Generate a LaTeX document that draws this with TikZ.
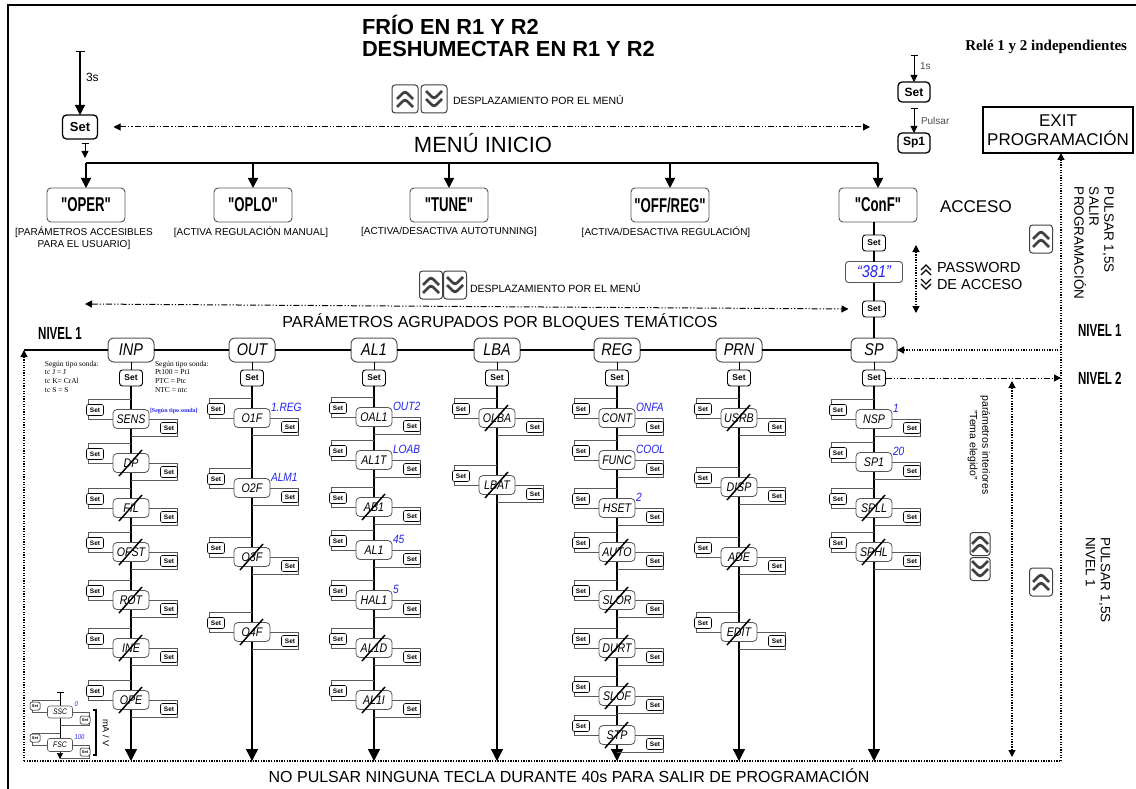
\documentclass[tikz,border=0pt]{standalone}
\usepackage{fontspec}
\setmainfont{Liberation Sans}
\newfontfamily\condf[FakeStretch=0.66]{Liberation Sans}
\newfontfamily\lcdf[FakeStretch=0.85]{Liberation Sans}
\newfontfamily\serf{Liberation Serif}
\usetikzlibrary{arrows.meta,calc}
\newcommand{\fsz}[2]{\fontsize{#1pt}{#2pt}\selectfont}
\definecolor{lcdblue}{RGB}{35,35,240}
\definecolor{bord}{RGB}{85,85,85}
\tikzset{
 x=1pt,y=-1pt,
 every node/.style={inner sep=0pt,outer sep=0pt},
 keybase/.style={draw=black!75,rounded corners=3pt,line width=1pt,minimum width=24pt,minimum height=27pt,fill=white},
 upkey/.style={keybase,path picture={\draw[line width=2.8pt,shift={(path picture bounding box.center)}] (-8,0)--(0,-8)--(8,0) (-8,8)--(0,0)--(8,8);}},
 downkey/.style={keybase,path picture={\draw[line width=2.8pt,shift={(path picture bounding box.center)}] (-8,-8)--(0,0)--(8,-8) (-8,0)--(0,8)--(8,0);}},
 pwkeys/.style={minimum width=14pt,minimum height=28pt,path picture={\draw[line width=1.3pt,shift={(path picture bounding box.center)}] (-5,-7)--(0,-12)--(5,-7) (-5,-2)--(0,-7)--(5,-2) (-5,2)--(0,7)--(5,2) (-5,7)--(0,12)--(5,7);}},
 setA/.style={draw,line width=1.3pt,rounded corners=4pt,minimum width=35pt,minimum height=24pt,fill=white,font=\bfseries\fsz{13}{13}},
 setB/.style={draw,line width=0.9pt,rounded corners=3pt,minimum width=23pt,minimum height=16pt,fill=white,font=\bfseries\fsz{8.5}{8.5}},
 setC/.style={draw,line width=0.6pt,rounded corners=2pt,minimum width=17pt,minimum height=11pt,fill=white,font=\bfseries\fsz{6.5}{6.5}},
 setD/.style={draw,line width=0.5pt,rounded corners=1.5pt,minimum width=10pt,minimum height=8pt,fill=white,font=\bfseries\fsz{4}{4}},
 menubox/.style={draw=bord,line width=0.9pt,rounded corners=4pt,minimum width=78pt,minimum height=34pt,fill=white,font=\condf\bfseries\fsz{20}{20}},
 hbox/.style={draw=bord,line width=1pt,rounded corners=6pt,minimum width=46pt,minimum height=24pt,fill=white,font=\lcdf\itshape\fsz{17}{17}},
 pbox/.style={draw=bord,line width=0.8pt,rounded corners=4pt,minimum width=36pt,minimum height=19pt,fill=white,font=\lcdf\itshape\fsz{12.5}{12.5}},
 sbox/.style={draw=bord,line width=0.6pt,rounded corners=2.5pt,minimum width=25pt,minimum height=12pt,fill=white,font=\lcdf\itshape\fsz{8}{8}},
 val/.style={anchor=south west,text=lcdblue,font=\lcdf\itshape\fsz{12}{12}},
 strike/.style={line width=1.5pt},
 brk/.style={draw=black!65,line width=0.6pt},
 colline/.style={line width=1.4pt,-{Triangle[width=12pt,length=12pt]}},
 dashdot/.style={line width=1pt,dash pattern=on 6pt off 2pt on 1.2pt off 2pt on 1.2pt off 2pt},
 dotl/.style={line width=1.3pt,dash pattern=on 1.3pt off 1.3pt},
 tip/.style={-{Triangle[width=7pt,length=7pt]}},
 tips/.style={{Triangle[width=7pt,length=7pt]}-{Triangle[width=7pt,length=7pt]}},
 barrow/.style={line width=0.8pt,{Bar[width=7pt]}-{Triangle[width=7pt,length=7pt]}},
 niv/.style={font=\condf\bfseries\fsz{17.5}{17.5}},
}
\newcommand{\PItem}[4]{%
  \node[pbox] (#1) at (#2,#3) {#4};
  \draw[brk] (#2,#3-20) -| (#2-43,#3) -- (#1.west);
  \draw[brk] (#1.east) -| (#2+46,#3+17) -- (#2,#3+17);
  \node[setC] (#1L) at (#2-36,#3-9) {Set};
  \node[setC] (#1R) at (#2+38,#3+9) {Set};
}
\newcommand{\PStrike}[1]{\draw[strike] ([shift={(-12pt,-13pt)}]#1.center) -- ([shift={(11pt,13pt)}]#1.center);}
\newcommand{\PVal}[2]{\node[val] (#1v) at ([shift={(1pt,-3pt)}]#1.north east) {#2};}
\begin{document}
\begin{tikzpicture}
\useasboundingbox (0,0) rectangle (1136,789);
\fill[white] (0,0) rectangle (1136,789);
\draw[line width=2pt] (8,789) -- (8,5) -- (1136,5);

% titles
\node[anchor=west,align=left,font=\bfseries\fsz{21.8}{22.5}] (title) at (362,36) {FRÍO EN R1 Y R2\\DESHUMECTAR EN R1 Y R2};
\node[anchor=east,font=\serf\bfseries\fsz{15}{15}] (rele) at (1127,47) {Relé 1 y 2 independientes};

% top-left entry
\coordinate (t3) at (80,51);
\node[setA] (setTop) at (80,127) {Set};
\draw[line width=1.3pt,{Bar[width=9pt]}-{Triangle[width=10pt,length=10pt]}] (t3) -- (setTop.north);
\node[anchor=west,font=\fsz{12}{12}] (l3s) at (86,77) {3s};
\coordinate (t4) at (85,143);
\coordinate (t4e) at (85,158);
\draw[barrow] (t4) -- (t4e);

% scroll line 1
\node[upkey,minimum width=26pt,minimum height=28pt] (k1u) at (405,99) {};
\node[downkey,minimum width=26pt,minimum height=28pt] (k1d) at (434,99) {};
\node[anchor=west,font=\fsz{10.5}{10.5}] (k1t) at (453,100) {DESPLAZAMIENTO POR EL MENÚ};
\coordinate (dd1b) at (870,127);
\draw[dashdot,tips] ([xshift=16pt]setTop.east) -- (dd1b);
\node[font=\fsz{22}{22}] (menu) at (483,143) {MENÚ INICIO};

% menu boxes
\node[menubox] (oper) at (86,205) {"OPER"};
\node[menubox] (oplo) at (253,205) {"OPLO"};
\node[menubox] (tune) at (449,205) {"TUNE"};
\node[menubox] (offreg) at (670,205) {"OFF/REG"};
\node[menubox] (conf) at (878,205) {"ConF"};
\coordinate (busL) at (86,163);
\draw[line width=1.5pt] (busL) -- (conf.north |- busL);
\foreach \b in {oper,oplo,tune,offreg,conf}
  \draw[line width=1.5pt,-{Triangle[width=10pt,length=10pt]}] (\b.north |- busL) -- (\b.north);
\node[align=center,font=\fsz{10}{12}] (operL) at (84,238) {[PARÁMETROS ACCESIBLES\\PARA EL USUARIO]};
\node[font=\fsz{10}{10}] (oploL) at (251,232) {[ACTIVA REGULACIÓN MANUAL]};
\node[font=\fsz{10}{10}] (tuneL) at (449,232) {[ACTIVA/DESACTIVA AUTOTUNNING]};
\node[font=\fsz{10}{10}] (offL) at (666,232) {[ACTIVA/DESACTIVA REGULACIÓN]};
\node[anchor=west,font=\fsz{17}{17}] (acc) at (940,207) {ACCESO};

% top right
\coordinate (t1s) at (914,55);
\node[setA,minimum width=32pt,minimum height=20pt,font=\bfseries\fsz{12}{12}] (setR) at (914,92) {Set};
\draw[barrow] (t1s) -- (setR.north);
\node[anchor=west,font=\fsz{10}{10},text=black!70] (l1s) at (920,66) {1s};
\node[setA,minimum width=32pt,minimum height=20pt,font=\bfseries\fsz{12}{12}] (sp1) at (914,143) {Sp1};
\coordinate (t5) at (914,108);
\draw[barrow] (t5) -- (sp1.north);
\node[anchor=west,font=\fsz{10}{10},text=black!70] (lpul) at (921,121) {Pulsar};
\node[draw,line width=1.2pt,minimum width=150pt,minimum height=46pt,align=center,font=\fsz{17}{19}] (exit) at (1058,130) {EXIT\\PROGRAMACIÓN};

% password
\node[setB] (setC1) at (874,243) {Set};
\node[draw=bord,rounded corners=3pt,minimum width=57pt,minimum height=21pt,line width=0.9pt,text=lcdblue,font=\lcdf\itshape\fsz{17}{17}] (pw) at (874,272) {“381”};
\node[setB] (setC2) at (874,309) {Set};
\draw[line width=1.3pt] (conf.south -| setC1.north) -- (setC1.north);
\coordinate (pwA) at (916,245);
\coordinate (pwB) at (916,313);
\draw[dotl,tips] (pwA) -- (pwB);
\node[pwkeys] (pwk) at (926,277) {};
\node[anchor=west,align=left,font=\fsz{14.5}{16.5}] (pwt) at (937,276) {PASSWORD\\DE ACCESO};

% scroll line 2
\node[upkey,minimum width=23pt,minimum height=28pt] (k2u) at (431,285) {};
\node[downkey,minimum width=23pt,minimum height=28pt] (k2d) at (455,285) {};
\node[anchor=west,font=\fsz{10.5}{10.5}] (k2t) at (470,288) {DESPLAZAMIENTO POR EL MENÚ};
\coordinate (dd2a) at (85,304);
\draw[dashdot,tips] (dd2a) -- ([xshift=-14pt]setC2.west);
\node[font=\fsz{16}{16}] (pag) at (500,322) {PARÁMETROS AGRUPADOS POR BLOQUES TEMÁTICOS};

% level labels
\node[niv] (niv1L) at (60,333) {NIVEL 1};
\node[niv,anchor=west] (niv1R) at (1078,330) {NIVEL 1};
\node[niv,anchor=west] (niv2R) at (1078,378) {NIVEL 2};

% headers and columns
\coordinate (lvlL) at (24,350);
\foreach \n/\x/\t in {INP/131/INP,OUT/252/OUT,AL/374/AL1,LBA/497/LBA,REG/617/REG,PRN/739/PRN,SP/874/SP} {
  \node[hbox] (h\n) at (\x,350) {\t};
  \node[setB] (s\n) at (\x,378) {Set};
  \coordinate (e\n) at (\x,761);
}
\draw[line width=1.3pt] (setC1) -- (pw) -- (setC2) -- (hSP);
\draw[line width=1.2pt] (lvlL) -- (hINP) -- (hOUT) -- (hAL) -- (hLBA) -- (hREG) -- (hPRN) -- (hSP);
\foreach \n in {INP,OUT,AL,LBA,REG,PRN,SP} {
  \draw[line width=1pt] (h\n) -- (s\n);
  \draw[colline] (s\n) -- (e\n);
}

% notes
\node[anchor=north west,align=left,font=\serf\fsz{7.5}{8.6}] (noteA) at (45,361) {Según tipo sonda:\\tc J = J\\tc K= CrAl\\tc S = S};
\node[anchor=north west,align=left,font=\serf\fsz{7.5}{8.6}] (noteB) at (155,361) {Según tipo sonda:\\Pt100 = Pt1\\PTC = Ptc\\NTC = ntc};

% INP
\PItem{sens}{131}{419}{SENS}
\node[val,font=\serf\bfseries\fsz{6}{6}] (sensv) at ([shift={(1pt,-4pt)}]sens.north east) {[Según tipo sonda]};
\PItem{dp}{131}{463}{DP}\PStrike{dp}
\PItem{fil}{131}{508}{FIL}\PStrike{fil}
\PItem{ofst}{131}{552}{OFST}\PStrike{ofst}
\PItem{rot}{131}{600}{ROT}\PStrike{rot}
\PItem{ine}{131}{648}{INE}\PStrike{ine}
\PItem{ope}{131}{700}{OPE}\PStrike{ope}
% OUT
\PItem{oif}{252}{418}{O1F}\PVal{oif}{1.REG}
\PItem{otf}{252}{488}{O2F}\PVal{otf}{ALM1}
\PItem{othf}{252}{557}{O3F}\PStrike{othf}
\PItem{ofof}{252}{632}{O4F}\PStrike{ofof}
% AL1
\PItem{oal}{374}{417}{OAL1}\PVal{oal}{OUT2}
\PItem{alt}{374}{460}{AL1T}\PVal{alt}{LOAB}
\PItem{ab}{374}{507}{AB1}\PStrike{ab}
\PItem{ali}{374}{550}{AL1}\PVal{ali}{45}
\PItem{hal}{374}{600}{HAL1}\PVal{hal}{5}
\PItem{ald}{374}{648}{AL1D}\PStrike{ald}
\PItem{alii}{374}{700}{AL1I}\PStrike{alii}
% LBA
\PItem{olba}{497}{418}{OLBA}\PStrike{olba}
\PItem{lbat}{497}{485}{LBAT}\PStrike{lbat}
% REG
\PItem{cont}{617}{418}{CONT}\PVal{cont}{ONFA}
\PItem{func}{617}{460}{FUNC}\PVal{func}{COOL}
\PItem{hset}{617}{508}{HSET}\PVal{hset}{2}
\PItem{auto}{617}{552}{AUTO}\PStrike{auto}
\PItem{slor}{617}{600}{SLOR}\PStrike{slor}
\PItem{durt}{617}{648}{DURT}\PStrike{durt}
\PItem{slof}{617}{696}{SLOF}\PStrike{slof}
\PItem{stp}{617}{735}{STP}\PStrike{stp}
% PRN
\PItem{usrb}{739}{418}{USRB}\PStrike{usrb}
\PItem{disp}{739}{487}{DISP}\PStrike{disp}
\PItem{ade}{739}{557}{ADE}\PStrike{ade}
\PItem{edit}{739}{632}{EDIT}\PStrike{edit}
% SP
\PItem{nsp}{874}{419}{NSP}\PVal{nsp}{1}
\PItem{spi}{874}{462}{SP1}\PVal{spi}{20}
\PItem{spll}{874}{508}{SPLL}\PStrike{spll}
\PItem{sphl}{874}{552}{SPHL}\PStrike{sphl}

% inset mA/V
\coordinate (iT) at (60,692);
\coordinate (iB) at (60,759);
\draw[line width=0.6pt,{Bar[width=7pt]}-{Triangle[width=6pt,length=6pt]}] (iT) -- (iB);
\node[sbox] (ssc) at (60,712) {SSC};
\draw[brk,line width=0.5pt] (60,700) -| (32,712) -- (ssc.west);
\draw[brk,line width=0.5pt] (ssc.east) -| (89,725) -- (60,725);
\node[setD] (sscL) at (35,706) {Set};
\node[setD] (sscR) at (85,720) {Set};
\node[val,font=\lcdf\itshape\fsz{7}{7}] (sscv) at ([shift={(2pt,-1pt)}]ssc.north east) {0};
\node[sbox,minimum height=13pt] (fsc) at (60,745) {FSC};
\draw[brk,line width=0.5pt] (60,733) -| (32,745) -- (fsc.west);
\draw[brk,line width=0.5pt] (fsc.east) -| (89,758) -- (60,758);
\node[setD] (fscL) at (35,738) {Set};
\node[setD] (fscR) at (85,752) {Set};
\node[val,font=\lcdf\itshape\fsz{7}{7}] (fscv) at ([shift={(2pt,-1pt)}]fsc.north east) {100};
\draw[line width=1.2pt] (93,710) -- (96,710) -- (96,755) -- (93,755);
\node[rotate=-90,font=\fsz{9}{9}] (ma) at (106,733) {mA / V};

% dotted return paths
\coordinate (botL) at (24,761);
\coordinate (rBot) at (1061,761);
\coordinate (rMid) at (1061,350);
\coordinate (rN2) at (1061,378);
\coordinate (pA) at (1012,381);
\coordinate (pB) at (1012,757);
\draw[dotl] (botL) -- (rBot);
\draw[dotl,tip] (botL) -- (lvlL);
\draw[dotl,tip] (rBot) -- (rBot |- exit.south);
\draw[dotl,tip] (rMid) -- (hSP.east);
\draw[dashdot,tip] (sSP.east) -- (rN2);
\draw[dotl,tips] (pA) -- (pB);

% right keys and rotated texts
\node[upkey,minimum width=23pt,minimum height=28pt] (kR1) at (1041,239) {};
\node[upkey,minimum width=23pt,minimum height=28pt] (kR2) at (1041,582) {};
\node[upkey,minimum width=20pt,minimum height=23pt] (kR3) at (980,544) {};
\node[downkey,minimum width=20pt,minimum height=23pt] (kR4) at (980,569) {};
\node[rotate=-90,anchor=west,align=left,font=\fsz{13.5}{15}] (pul1) at (1094,187) {PULSAR 1,5S\\SALIR\\PROGRAMACIÓN};
\node[rotate=-90,anchor=west,align=left,font=\fsz{13.5}{15}] (pul2) at (1098,537) {PULSAR 1,5S\\NIVEL 1};
\node[rotate=-90,align=center,font=\fsz{10.5}{12.5}] (tema) at (979,445) {parámetros interiores\\"Tema elegido"};

\node[font=\fsz{16}{16}] (bottom) at (569,776) {NO PULSAR NINGUNA TECLA DURANTE 40s PARA SALIR DE PROGRAMACIÓN};
\end{tikzpicture}
\end{document}
